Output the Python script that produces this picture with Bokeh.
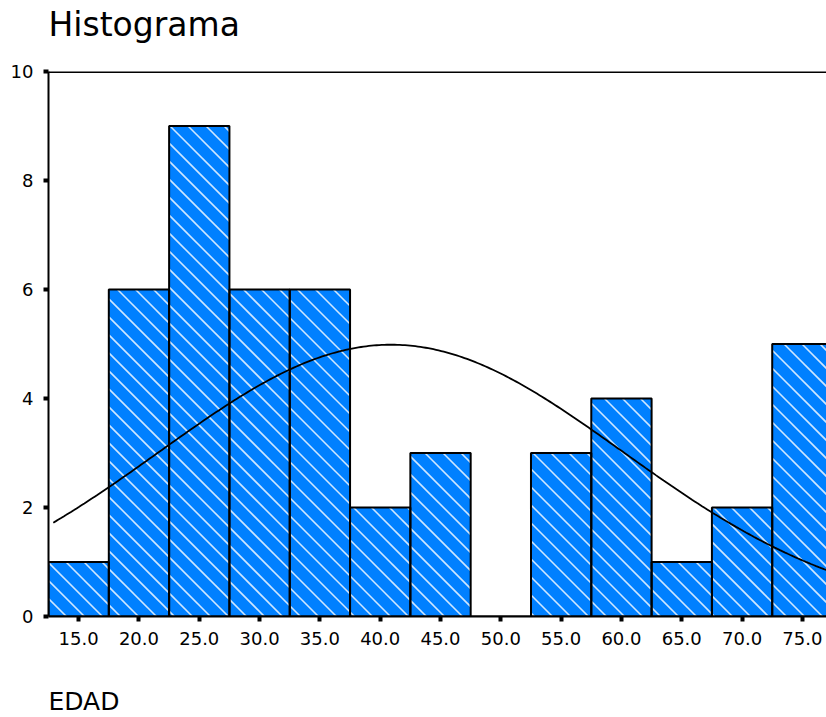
import math
import numpy as np
from bokeh.plotting import figure
from bokeh.models import FixedTicker, Span, Title, ColumnDataSource
from bokeh.embed import file_html
from bokeh.resources import INLINE

# ---- data ----
bin_centers = [15, 20, 25, 30, 35, 40, 45, 50, 55, 60, 65, 70, 75]
counts = [1, 6, 9, 6, 6, 2, 3, 0, 3, 4, 1, 2, 5]
bin_width = 5.0
x_ticks = [15, 20, 25, 30, 35, 40, 45, 50, 55, 60, 65, 70, 75]
x_tick_labels = ["15.0", "20.0", "25.0", "30.0", "35.0", "40.0", "45.0",
                 "50.0", "55.0", "60.0", "65.0", "70.0", "75.0"]
y_ticks = [0, 2, 4, 6, 8, 10]
# normal curve parameters (fitted curve shown by the original)
curve_mean = 40.9
curve_sd = 19.2
curve_start = 12.9
curve_end = 77.0

FONT = "DejaVu Sans"
BLUE = "#0080ff"
X0, X1 = 12.5, 77.0
Y0, Y1 = 0, 10
W, H = 826, 717
B_LEFT, B_TOP, B_BOTTOM = 48, 71, 101
FRAME_W = W - B_LEFT
FRAME_H = H - B_TOP - B_BOTTOM

p = figure(width=W, height=H, x_range=(X0, X1), y_range=(Y0, Y1),
           output_backend="svg", toolbar_location=None,
           min_border_left=B_LEFT, min_border_right=0,
           min_border_top=B_TOP, min_border_bottom=B_BOTTOM,
           background_fill_color="white", border_fill_color="white")

p.title.text = "Histograma"
p.title.text_font = FONT
p.title.text_font_size = "33px"
p.title.text_font_style = "normal"
p.title.text_color = "black"
p.title.align = "left"
p.title.vertical_align = "top"
p.title.standoff = 8

p.outline_line_color = None
p.xgrid.visible = False
p.ygrid.visible = False

src = ColumnDataSource(dict(
    left=[c - bin_width / 2 for c in bin_centers],
    right=[c + bin_width / 2 for c in bin_centers],
    top=counts,
    bottom=[0] * len(counts),
))
# bar fill
p.quad(left="left", right="right", top="top", bottom="bottom", source=src,
       fill_color=BLUE, line_color=None)

# diagonal "\" hatch lines at 45 degrees on screen, clipped to each bar
sx = FRAME_W / (X1 - X0)
sy = FRAME_H / (Y1 - Y0)
STEP = 18.0
hx0, hy0, hx1, hy1 = [], [], [], []
for c, t in zip(bin_centers, counts):
    if t <= 0:
        continue
    l, r = c - bin_width / 2, c + bin_width / 2
    umin = (l - X0) * sx
    umax = (r - X0) * sx + t * sy
    k = math.ceil(umin / STEP)
    while k * STEP < umax:
        u = k * STEP
        xa = X0 + (u - t * sy) / sx
        xb = X0 + u / sx
        lo, hi = max(l, xa), min(r, xb)
        if hi > lo:
            hx0.append(lo)
            hy0.append((u - (lo - X0) * sx) / sy)
            hx1.append(hi)
            hy1.append((u - (hi - X0) * sx) / sy)
        k += 1
p.segment(hx0, hy0, hx1, hy1, line_color="#e6f2ff", line_width=1.6, line_alpha=0.9)

# bar outlines
p.quad(left="left", right="right", top="top", bottom="bottom", source=src,
       fill_color=None, line_color="black", line_width=2)

n_cases = sum(counts)
cx = np.linspace(curve_start, curve_end, 300)
cy = n_cases * bin_width / (curve_sd * np.sqrt(2 * np.pi)) * np.exp(-0.5 * ((cx - curve_mean) / curve_sd) ** 2)
p.line(cx, cy, line_color="black", line_width=1.8)

p.add_layout(Span(location=Y1, dimension="width", line_color="black", line_width=3))

for ax in (p.xaxis[0], p.yaxis[0]):
    ax.axis_line_color = "black"
    ax.axis_line_width = 2
    ax.major_tick_line_color = "black"
    ax.major_tick_line_width = 4
    ax.major_tick_in = 0
    ax.major_tick_out = 5
    ax.minor_tick_line_color = None
    ax.major_label_text_font = FONT
    ax.major_label_text_font_size = "18px"
    ax.major_label_text_color = "black"

p.xaxis.ticker = FixedTicker(ticks=x_ticks)
p.xaxis.major_label_overrides = {t: l for t, l in zip(x_ticks, x_tick_labels)}
p.xaxis.major_label_standoff = 10
p.yaxis.ticker = FixedTicker(ticks=y_ticks)
p.yaxis.major_label_standoff = 10

# spacer between the frame and the title (pushes the title upwards)
p.add_layout(Title(text=" ", text_font_size="2px", standoff=18), "above")

# spacer + x-axis name below the axis
p.add_layout(Title(text=" ", text_font_size="2px", standoff=35), "below")
p.add_layout(Title(text="EDAD", align="left", vertical_align="top", text_font=FONT,
                   text_font_size="25px", text_font_style="normal",
                   text_color="black", standoff=0), "below")

open("out.html", "w").write(file_html(p, INLINE))
